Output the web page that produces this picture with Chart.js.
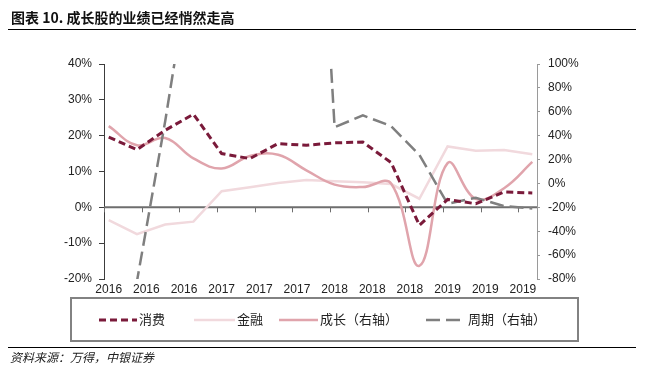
<!DOCTYPE html>
<html><head><meta charset="utf-8">
<script src="https://cdn.jsdelivr.net/npm/chart.js@4/dist/chart.umd.min.js"></script>
<style>
html,body{margin:0;padding:0;background:#fff;}
#wrap{position:relative;width:645px;height:382px;overflow:hidden;background:#fff;}
#c{position:absolute;left:0;top:0;}
#title{position:absolute;left:11px;top:6px;font:bold 14px "Noto Sans CJK SC",sans-serif;color:#111;white-space:nowrap;line-height:22px;}
.rule{position:absolute;left:8px;width:628px;height:0;border-top:1.5px solid #000;}
#legend{position:absolute;left:70px;top:297px;width:509px;height:45px;box-sizing:border-box;border:2px solid #828282;}
.li{position:absolute;top:0;height:41px;}
.li svg{position:absolute;top:19px;}
.li span{position:absolute;top:11px;font:13px "Noto Sans CJK SC",sans-serif;color:#222;white-space:nowrap;line-height:18px;}
#source{position:absolute;left:10px;top:347px;font:italic 12px "Noto Sans CJK SC",sans-serif;color:#222;white-space:nowrap;line-height:20px;}
</style></head>
<body>
<div id="wrap">
<canvas id="c" width="645" height="382"></canvas>
<div id="title">图表 10. 成长股的业绩已经悄然走高</div>
<div class="rule" style="top:29px"></div>
<div id="legend"></div>
<div class="rule" style="top:347px"></div>
<div id="source">资料来源：万得，中银证券</div>
</div>
<script>
// ---- data ----
const categories = ['2016-01','2016-04','2016-07','2016-10','2017-01','2017-04','2017-07','2017-10',
                    '2018-01','2018-04','2018-07','2018-10','2019-01','2019-04','2019-07','2019-10'];
const consumption = [19.6, 16.1, 21.5, 26.0, 15.0, 13.6, 17.8, 17.3, 18.0, 18.2, 12.5, -5.0, 2.2, 1.0, 4.3, 4.0];
const finance     = [-3.6, -7.5, -4.8, -4.0, 4.5, 5.6, 6.8, 7.6, 7.3, 7.0, 6.5, 2.4, 17.0, 15.8, 16.0, 14.8];
const growth      = [48, 32, 38, 21, 12.5, 23, 24, 11, -1, -3, 0, -69, 17, -13, -4, 18];
const cycle       = [-110, -82, 52, 200, 320, 400, 480, 450, 47, 57, 48, 24, -17, -12, -19, -21];
const tickLabels  = ['2016','2016','2016','2017','2017','2017','2018','2018','2018','2019','2019','2019'];
const seriesNames = ['消费','金融','成长（右轴）','周期（右轴）'];

// month offset from axis start (Jan 2016), centred in the month
const monthOf = s => { const [y,m] = s.split('-').map(Number); return (y-2016)*12 + (m-1) + 0.5; };
const pts = arr => arr.map((v,i)=>({x: monthOf(categories[i]), y: v}));

const styles = [
  {color:'#7a1a3a', width:3,   dash:[7,4],  tension:0,    axis:'y'},
  {color:'#f1d9dd', width:2.5, dash:[],     tension:0,    axis:'y'},
  {color:'#e0a4ac', width:2.5, dash:[],     tension:0.4,  axis:'y1'},
  {color:'#7f7f7f', width:2.5, dash:[14,6], tension:0,    axis:'y1'}
];
const values = [consumption, finance, growth, cycle];

const datasets = values.map((v,i)=>({
  label: seriesNames[i], data: pts(v), yAxisID: styles[i].axis,
  borderColor: styles[i].color, borderWidth: styles[i].width, borderDash: styles[i].dash,
  tension: styles[i].tension, pointRadius: 0, fill:false, order: i===0?0:(4-i),
  borderCapStyle:'butt'
}));

const zeroAxis = {
  id:'zeroAxis',
  beforeDatasetsDraw(chart){
    const {ctx, chartArea:a, scales:{x, y}} = chart;
    const y0 = y.getPixelForValue(0);
    ctx.save();
    ctx.strokeStyle = '#6e6e6e';
    ctx.lineWidth = 2;
    ctx.beginPath(); ctx.moveTo(a.left, y0); ctx.lineTo(a.right, y0); ctx.stroke();
    ctx.lineWidth = 1;
    for (let i=0;i<tickLabels.length;i++){
      const px = Math.round(x.getPixelForValue(i*4))+0.5;
      ctx.beginPath(); ctx.moveTo(px, y0); ctx.lineTo(px, y0+5); ctx.stroke();
    }
    ctx.restore();
  }
};

const font = {family:'"Liberation Sans", Arial, sans-serif', size:12};
new Chart(document.getElementById('c'), {
  type:'line',
  data:{datasets},
  plugins:[zeroAxis],
  options:{
    responsive:false, animation:false, devicePixelRatio:1,
    layout:{padding:{left:0,right:0,top:64,bottom:83}},
    plugins:{legend:{display:false}, tooltip:{enabled:false}},
    scales:{
      x:{type:'linear', min:0, max:46, position:'bottom',
         border:{display:false}, grid:{display:false, drawTicks:false},
         afterBuildTicks: s => { s.ticks = tickLabels.map((_,i)=>({value: i*4+0.5})); },
         afterFit: s => { s.height = 20; },
         ticks:{autoSkip:false, maxRotation:0, padding:3, color:'#222', font,
                callback:(v,i)=>tickLabels[i]}},
      y:{position:'left', min:-20, max:40,
         border:{display:true, color:'#3c3c3c', width:1},
         grid:{drawOnChartArea:false, drawTicks:true, tickLength:5, color:'#3c3c3c'},
         afterFit: s => { s.width = 104; },
         ticks:{stepSize:10, padding:7, color:'#222', font, callback:v=>v+'%'}},
      y1:{position:'right', min:-80, max:100,
         border:{display:true, color:'#9a9a9a', width:1},
         grid:{drawOnChartArea:false, drawTicks:true, tickLength:3, color:'#9a9a9a'},
         afterFit: s => { s.width = 108; },
         ticks:{stepSize:20, padding:8, color:'#222', font, callback:v=>v+'%'}}
    }
  }
});

// HTML legend built from the dataset styles
const legendPos = [[27,67],[122,165],[207,248],[354,396]]; // [line start, text start] inside box
const lg = document.getElementById('legend');
seriesNames.forEach((n,i)=>{
  const st = styles[i];
  const d = document.createElement('div'); d.className='li'; d.style.left = legendPos[i][0]+'px';
  const w = legendPos[i][1]-legendPos[i][0]-2;
  d.innerHTML = `<svg width="${w}" height="4" style="left:0"><line x1="0" y1="2" x2="${w}" y2="2" stroke="${st.color}" stroke-width="${st.width}" stroke-dasharray="${st.dash.join(',')}"/></svg><span style="left:${w+2}px">${n}</span>`;
  lg.appendChild(d);
});
</script>
</body></html>
